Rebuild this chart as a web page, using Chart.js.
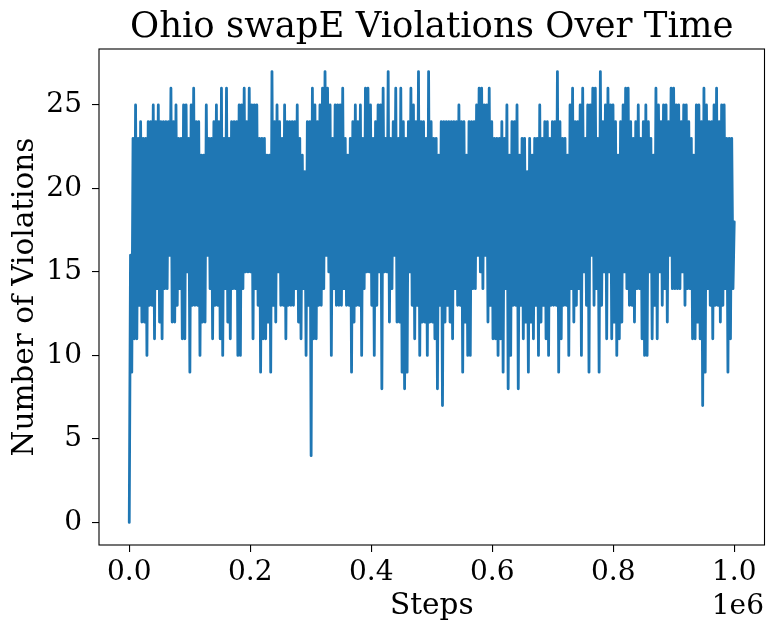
<!DOCTYPE html>
<html>
<head>
<meta charset="utf-8">
<title>Ohio swapE Violations Over Time</title>
<script src="https://cdn.jsdelivr.net/npm/chart.js@4.4.1/dist/chart.umd.min.js"></script>
<style>
  html, body { margin: 0; padding: 0; background: #fff; }
  canvas { display: block; }
</style>
</head>
<body>
<canvas id="violationsChart" width="767" height="627" style="width:767px;height:627px"></canvas>
<script>
// Chart text
const chartTitle = 'Ohio swapE Violations Over Time';
const xLabel = 'Steps';
const yLabel = 'Number of Violations';
const xOffsetText = '1e6';

// Tick values and labels
const xTickValues = [0, 200000, 400000, 600000, 800000, 1000000];
const xTickLabels = ['0.0', '0.2', '0.4', '0.6', '0.8', '1.0'];
const yTickValues = [0, 5, 10, 15, 20, 25];

// Violations, left to right (samples spread over 0 .. 1e6 steps)
const violations = [
    // 0.00 - 0.17e6
    0, 16, 9, 23, 11, 25, 11, 23, 13, 24, 12, 23, 12, 23, 10, 24, 13, 24, 13, 25,
    11, 24, 14, 25, 12, 24, 11, 24, 14, 24, 14, 24, 16, 26, 12, 24, 12, 25, 13, 23,
    14, 23, 11, 25, 11, 25, 15, 23, 9, 25, 13, 26, 13, 24, 13, 24, 10, 22, 12, 22,
    12, 25, 16, 23, 14, 23, 11, 24, 13, 25, 13, 24, 11, 26, 10, 23, 14,
    // 0.17 - 0.34e6
    26, 12, 23, 11, 24, 14, 24, 14, 24, 10, 25, 10, 25, 14, 26, 15, 24, 15, 26, 15,
    25, 11, 25, 14, 25, 13, 23, 9, 23, 11, 23, 11, 22, 12, 22, 9, 27, 13, 24, 12,
    25, 15, 24, 13, 23, 13, 25, 11, 24, 13, 24, 13, 24, 13, 24, 14, 25, 12, 23, 11,
    22, 14, 21, 10, 24, 13, 24, 4, 26, 11, 25, 11, 24, 13, 25, 13, 26, 14, 27, 16,
    26, 15, 25, 10, 23, 14, 25, 13,
    // 0.34 - 0.51e6
    25, 13, 25, 13, 26, 14, 23, 13, 22, 13, 23, 9, 24, 12, 25, 13, 24, 13, 25, 10,
    23, 14, 26, 15, 26, 15, 25, 13, 23, 10, 24, 13, 25, 15, 25, 8, 26, 15, 23, 15,
    27, 12, 23, 14, 24, 16, 26, 12, 23, 12, 26, 9, 24, 8, 23, 9, 24, 15, 26, 13,
    25, 11, 24, 13, 27, 10, 24, 12, 24, 12, 23, 10, 27, 12, 24, 12, 23, 11, 23, 8,
    22, 13, 24, 7, 24, 12, 24, 13,
    // 0.51 - 0.68e6
    24, 12, 24, 11, 24, 14, 24, 13, 25, 13, 24, 9, 24, 12, 22, 10, 24, 10, 24, 14,
    24, 14, 25, 16, 26, 15, 26, 14, 25, 16, 25, 12, 26, 13, 24, 11, 23, 11, 23, 10,
    23, 11, 24, 9, 23, 14, 25, 8, 22, 10, 24, 13, 24, 13, 25, 8, 22, 13, 23, 11,
    23, 12, 21, 9, 23, 12, 22, 11, 23, 13, 23, 10, 25, 12, 23, 13, 24, 11,
    // 0.68 - 0.86e6
    24, 10, 23, 13, 24, 13, 24, 13, 27, 9, 24, 11, 23, 13, 23, 13, 22, 10, 25, 14,
    26, 12, 24, 13, 24, 14, 25, 10, 26, 15, 23, 13, 25, 9, 25, 16, 26, 13, 26, 14,
    23, 9, 27, 13, 24, 15, 25, 11, 26, 15, 25, 11, 25, 12, 24, 10, 22, 11, 24, 12,
    25, 15, 26, 14, 26, 13, 24, 13, 23, 12, 24, 14, 25, 14, 23, 11, 24, 10, 25,
    // 0.86 - 1.00e6
    10, 24, 15, 23, 11, 22, 13, 26, 11, 25, 15, 24, 13, 25, 14, 25, 12, 24, 16, 26,
    14, 26, 14, 25, 14, 25, 14, 24, 15, 25, 13, 25, 14, 24, 14, 23, 11, 22, 11, 25,
    12, 25, 11, 24, 7, 26, 9, 25, 14, 24, 13, 24, 11, 25, 13, 26, 13, 24, 12, 25,
    13, 25, 14, 23, 9, 23, 11, 23, 14, 18
];

// Samples are logged at even intervals from step 0 to step 1e6
const totalSteps = 1000000;
const steps = violations.map((v, i) => Math.round(i * totalSteps / (violations.length - 1)));

const serif = '"DejaVu Serif", "Liberation Serif", serif';

// Draws the full box round the plot, the title and the 1e6 offset text
const framePlugin = {
    id: 'frame',
    afterDraw(chart) {
        const { ctx, chartArea: a } = chart;
        ctx.save();
        ctx.strokeStyle = '#000';
        ctx.lineWidth = 1.1;
        ctx.strokeRect(a.left, a.top, a.right - a.left, a.bottom - a.top);
        ctx.fillStyle = '#000';
        ctx.font = '35.5px ' + serif;
        ctx.textAlign = 'center';
        ctx.textBaseline = 'alphabetic';
        ctx.fillText(chartTitle, (a.left + a.right) / 2, 37);
        ctx.font = '28px ' + serif;
        ctx.textAlign = 'right';
        ctx.fillText(xOffsetText, 764, 614);
        ctx.restore();
    }
};

const ctx = document.getElementById('violationsChart').getContext('2d');
const violationsChart = new Chart(ctx, {
    type: 'line',
    data: {
        datasets: [{
            data: violations.map((v, i) => ({ x: steps[i], y: v })),
            borderColor: '#1f77b4',
            borderWidth: 2.8,
            borderJoinStyle: 'round',
            borderCapStyle: 'round',
            pointRadius: 0,
            fill: false,
            tension: 0
        }]
    },
    options: {
        responsive: false,
        animation: false,
        events: [],
        layout: {
            padding: { top: 49, right: 2.5, left: 0, bottom: 0 }
        },
        plugins: {
            legend: { display: false },
            title: { display: false },
            tooltip: { enabled: false }
        },
        scales: {
            x: {
                type: 'linear',
                min: -50000,
                max: 1050000,
                afterFit: (scale) => { scale.height = 82; },
                afterBuildTicks: (scale) => { scale.ticks = xTickValues.map(v => ({ value: v })); },
                ticks: {
                    callback: (value, index) => xTickLabels[index],
                    font: { family: serif, size: 28 },
                    color: '#000',
                    padding: 4,
                    maxRotation: 0,
                    autoSkip: false
                },
                grid: { drawOnChartArea: false, tickLength: 7, color: '#000', lineWidth: 1.1 },
                border: { display: false },
                title: {
                    display: true,
                    text: xLabel,
                    font: { family: serif, size: 29.5 },
                    color: '#000',
                    padding: { top: 0, bottom: 3 }
                }
            },
            y: {
                type: 'linear',
                min: -1.35,
                max: 28.35,
                afterFit: (scale) => { scale.width = 99; },
                afterBuildTicks: (scale) => { scale.ticks = yTickValues.map(v => ({ value: v })); },
                ticks: {
                    callback: (value) => String(value),
                    font: { family: serif, size: 28 },
                    color: '#000',
                    padding: 10
                },
                grid: { drawOnChartArea: false, tickLength: 7, color: '#000', lineWidth: 1.1 },
                border: { display: false },
                title: {
                    display: true,
                    text: yLabel,
                    font: { family: serif, size: 29.5 },
                    color: '#000',
                    padding: { top: 8, bottom: 0 }
                }
            }
        }
    },
    plugins: [framePlugin]
});
</script>
</body>
</html>
